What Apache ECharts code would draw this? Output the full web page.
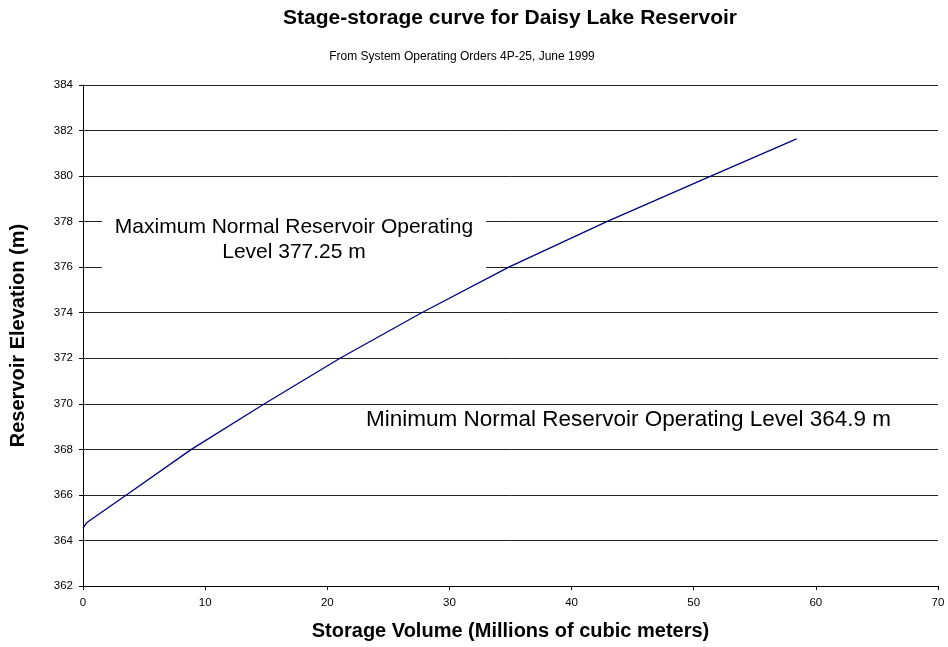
<!DOCTYPE html>
<html>
<head>
<meta charset="utf-8">
<script src="https://cdn.jsdelivr.net/npm/echarts@6/dist/echarts.min.js"></script>
<style>
html,body{margin:0;padding:0;background:#fff;}
#chart{width:948px;height:647px;}
</style>
</head>
<body>
<div id="chart"></div>
<script>
// Data
var storageVolume = [0, 0.3, 0.7, 3.55, 8.87, 14.86, 21.04, 27.73, 34.86, 42.88, 51.4, 58.42];
var elevation     = [364.54, 364.78, 364.93, 366, 368, 370, 372, 374, 376, 378, 380, 381.63];
var xTicks = [0, 10, 20, 30, 40, 50, 60, 70];
var yTicks = [362, 364, 366, 368, 370, 372, 374, 376, 378, 380, 382, 384];

var titleText = 'Stage-storage curve for Daisy Lake Reservoir';
var subtitleText = 'From System Operating Orders 4P-25, June 1999';
var maxLabel = 'Maximum Normal Reservoir Operating\nLevel 377.25 m';
var minLabel = 'Minimum Normal Reservoir Operating Level 364.9 m';

var FONT = '"Liberation Sans", Arial, sans-serif';
var chart = echarts.init(document.getElementById('chart'), null, {renderer: 'canvas'});

var pts = storageVolume.map(function (v, i) { return [v, elevation[i]]; });

chart.setOption({
  backgroundColor: '#ffffff',
  animation: false,
  grid: {left: 83, right: 10, top: 85, bottom: 61, containLabel: false},
  xAxis: {
    type: 'value',
    min: xTicks[0], max: xTicks[xTicks.length - 1], interval: 10,
    name: 'Storage Volume (Millions of cubic meters)',
    nameLocation: 'middle', nameGap: 35,
    nameTextStyle: {fontFamily: FONT, fontSize: 20, fontWeight: 'bold', color: '#000'},
    axisLine: {show: true, onZero: false, lineStyle: {color: '#000', width: 1}},
    axisTick: {show: true, length: 4, lineStyle: {color: '#000'}},
    axisLabel: {fontFamily: FONT, fontSize: 11.5, color: '#000', margin: 11},
    splitLine: {show: false}
  },
  yAxis: {
    type: 'value',
    min: yTicks[0], max: yTicks[yTicks.length - 1], interval: 2,
    name: 'Reservoir Elevation (m)',
    nameLocation: 'middle', nameGap: 55,
    nameTextStyle: {fontFamily: FONT, fontSize: 20, fontWeight: 'bold', color: '#000'},
    axisLine: {show: true, onZero: false, lineStyle: {color: '#000', width: 1}},
    axisTick: {show: true, length: 4, lineStyle: {color: '#000'}},
    axisLabel: {fontFamily: FONT, fontSize: 11.5, color: '#000', margin: 10},
    splitLine: {show: true, lineStyle: {color: '#222', width: 1}}
  },
  series: [{
    type: 'line',
    data: pts,
    showSymbol: false,
    smooth: false,
    lineStyle: {color: '#000080', width: 1.3},
    z: 3
  }],
  graphic: [
    {type: 'text', x: 510, y: 18, z: 10,
     style: {text: titleText, align: 'center', verticalAlign: 'middle',
             font: 'bold 21px ' + FONT, fill: '#000'}},
    {type: 'text', x: 462, y: 57, z: 10,
     style: {text: subtitleText, align: 'center', verticalAlign: 'middle',
             font: '12px ' + FONT, fill: '#000'}},
    {type: 'text', x: 294, y: 239.5, z: 10,
     style: {text: maxLabel, align: 'center', verticalAlign: 'middle',
             font: '21px ' + FONT, fill: '#000', lineHeight: 25,
             backgroundColor: '#fff', padding: [8, 13, 8, 13]}},
    {type: 'text', x: 628.5, y: 420, z: 10,
     style: {text: minLabel, align: 'center', verticalAlign: 'middle',
             font: '22.5px ' + FONT, fill: '#000'}}
  ]
});
</script>
</body>
</html>
